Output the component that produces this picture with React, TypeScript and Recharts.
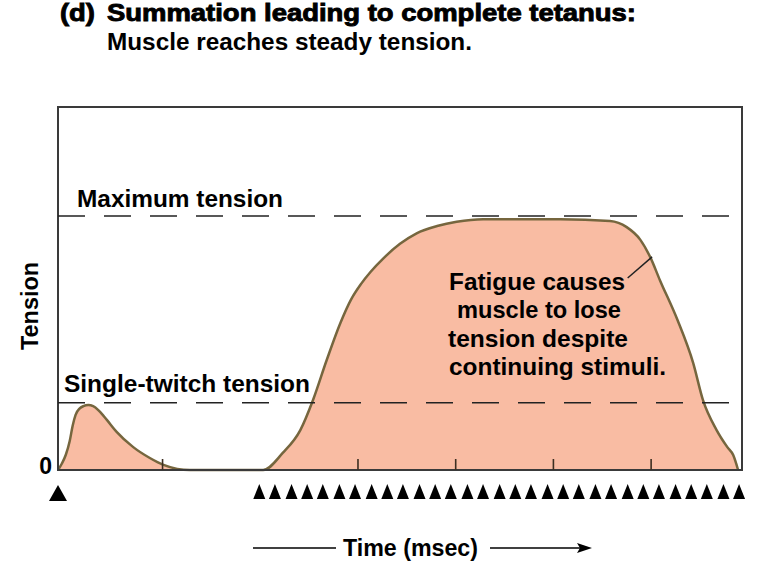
import React from "react";
import {
  ComposedChart,
  Area,
  XAxis,
  YAxis,
  ReferenceLine,
  ReferenceArea,
} from "recharts";

// time (msec) and tension (% of plot height)
const timeMs = [
  0, 4, 8, 12, 15, 18, 22, 26, 31, 36, 42, 50, 60, 77, 94, 108, 122, 135, 210,
  230, 248, 261, 275, 289, 300, 310, 320, 333, 350, 367, 388, 408, 435, 514,
  565, 582, 596, 606, 616, 634, 650, 660, 674, 685, 691, 696,
];
const tension = [
  0, 1.8, 4.2, 8.0, 12.2, 15.2, 16.9, 17.6, 17.9, 17.6, 16.3, 13.8, 10.5, 6.3,
  3.3, 1.4, 0.3, 0, 0, 4.7, 11, 19.3, 30.3, 40.5, 47.0, 51.2, 54.6, 58.3, 62.3,
  65.2, 67.2, 68.4, 69.1, 69.1, 68.6, 66.9, 63.4, 58.7, 52.3, 41.3, 29.5, 19.3,
  11, 6.3, 4.1, 0,
];

// stimulus times (triangles under the axis)
const stimuli = [
  0, 206, 222, 239, 255, 271, 288, 304, 321, 337, 353, 370, 386, 402, 419, 435,
  452, 468, 484, 501, 517, 533, 550, 566, 583, 599, 615, 632, 648, 664, 681,
  697,
];
const timeTicks = [107, 307, 407, 507, 607];

const MAX_TENSION = 70;
const SINGLE_TWITCH = 18.5;

const data = timeMs.map((t, i) => ({ t, tension: tension[i] }));

const FONT = "'Liberation Sans', Arial, Helvetica, sans-serif";

const InnerTick = (props: any) => {
  const { x, y } = props;
  return (
    <line x1={x} x2={x} y1={y} y2={y - 11} stroke="#3d2f22" strokeWidth={1.6} />
  );
};

const StimTick = (props: any) => {
  const { x, y, payload } = props;
  const single = payload.value === 0;
  const w = single ? 9 : 6;
  const h = single ? 16 : 15;
  const top = single ? y + 1 : y;
  return (
    <path
      d={`M${x},${top} L${x + w},${top + h} L${x - w},${top + h} Z`}
      fill="#000"
    />
  );
};

const ZeroTick = (props: any) => {
  const { x, y, payload } = props;
  return (
    <text
      x={x}
      y={y + 4}
      textAnchor="end"
      fontFamily={FONT}
      fontWeight="bold"
      fontSize={23}
      fill="#000"
    >
      {payload.value}
    </text>
  );
};

export default function App() {
  const txt = {
    fontFamily: FONT,
    fontWeight: "bold" as const,
    fill: "#000",
    lengthAdjust: "spacingAndGlyphs" as const,
  };
  return (
    <div style={{ position: "absolute", left: 0, top: 0, width: 762, height: 562, background: "#fff" }}>
      <ComposedChart
        width={762}
        height={562}
        data={data}
        margin={{ top: 107, right: 20, bottom: 38, left: 0 }}
      >
        <Area
          type="monotone"
          dataKey="tension"
          fill="#f9bca3"
          fillOpacity={1}
          stroke="#76663e"
          strokeWidth={2.5}
          isAnimationActive={false}
          dot={false}
          activeDot={false}
        />
        <ReferenceLine
          y={MAX_TENSION}
          stroke="#222"
          strokeWidth={1.5}
          strokeDasharray="27 19"
        />
        <ReferenceLine
          y={SINGLE_TWITCH}
          stroke="#222"
          strokeWidth={1.5}
          strokeDasharray="27 19"
        />
        <ReferenceLine
          segment={[
            { x: 583, y: 52.9 },
            { x: 608, y: 58.7 },
          ]}
          stroke="#222"
          strokeWidth={1.5}
        />
        <ReferenceArea
          x1={0}
          x2={700}
          y1={0}
          y2={100}
          fill="none"
          stroke="#3a3a3a"
          strokeWidth={2}
        />
        <XAxis
          dataKey="t"
          type="number"
          domain={[0, 700]}
          ticks={timeTicks}
          interval={0}
          height={14}
          tickSize={0}
          tickMargin={0}
          axisLine={false}
          tickLine={false}
          tick={<InnerTick />}
        />
        <XAxis
          xAxisId="stim"
          dataKey="t"
          type="number"
          domain={[0, 700]}
          allowDataOverflow
          ticks={stimuli}
          interval={0}
          height={40}
          tickSize={0}
          tickMargin={0}
          axisLine={false}
          tickLine={false}
          tick={<StimTick />}
        />
        <YAxis
          type="number"
          domain={[0, 100]}
          ticks={[0]}
          width={58}
          tickSize={0}
          tickMargin={6}
          axisLine={false}
          tickLine={false}
          tick={<ZeroTick />}
        />
      </ComposedChart>

      <svg
        width={762}
        height={562}
        style={{ position: "absolute", left: 0, top: 0, pointerEvents: "none" }}
      >
        <text x={60} y={21} fontSize={24} textLength={35} {...txt} stroke="#000" strokeWidth={0.9}>
          (d)
        </text>
        <text x={107} y={21} fontSize={24} textLength={529} {...txt} stroke="#000" strokeWidth={0.9}>
          Summation leading to complete tetanus:
        </text>
        <text x={107} y={50} fontSize={23} textLength={365} {...txt}>
          Muscle reaches steady tension.
        </text>

        <text x={77} y={207} fontSize={24} textLength={206} {...txt}>
          Maximum tension
        </text>
        <text x={64} y={392} fontSize={24} textLength={246} {...txt}>
          Single-twitch tension
        </text>

        <text x={449} y={290} fontSize={24} textLength={176} {...txt}>
          Fatigue causes
        </text>
        <text x={457} y={318} fontSize={24} textLength={164} {...txt}>
          muscle to lose
        </text>
        <text x={448} y={347} fontSize={24} textLength={180} {...txt}>
          tension despite
        </text>
        <text x={449} y={375} fontSize={24} textLength={217} {...txt}>
          continuing stimuli.
        </text>

        <text
          x={0}
          y={0}
          fontSize={23}
          textLength={88}
          textAnchor="middle"
          transform="translate(38,306) rotate(-90)"
          {...txt}
        >
          Tension
        </text>

        <line x1={253} x2={336} y1={548} y2={548} stroke="#000" strokeWidth={1.5} />
        <text x={343} y={556} fontSize={23} textLength={135} {...txt}>
          Time (msec)
        </text>
        <line x1={490} x2={580} y1={548} y2={548} stroke="#000" strokeWidth={1.5} />
        <path d="M592,548 L577,543 L580,548 L577,553 Z" fill="#000" />
      </svg>
    </div>
  );
}
